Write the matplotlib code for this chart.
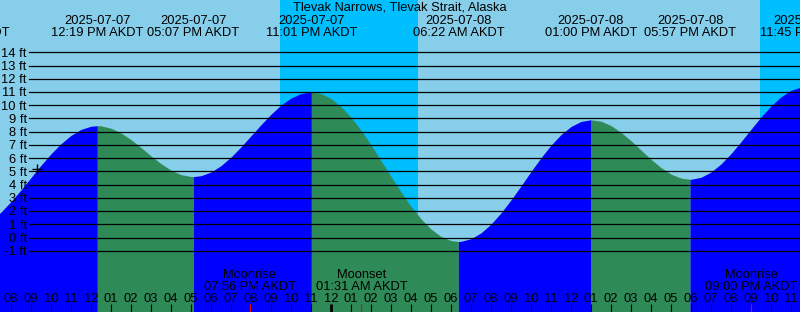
import datetime as dt
import numpy as np
import matplotlib
matplotlib.use('Agg')
import matplotlib.pyplot as plt
from matplotlib.transforms import blended_transform_factory

# station / tide table (AKDT)
station = "Tlevak Narrows, Tlevak Strait, Alaska"
tide_event_times = ["2025-07-07 05:39", "2025-07-07 12:19", "2025-07-07 17:07",
                    "2025-07-07 23:01", "2025-07-08 06:22", "2025-07-08 13:00",
                    "2025-07-08 17:57", "2025-07-08 23:45"]
tide_event_ft = [0.4, 8.45, 4.6, 11.0, -0.3, 8.9, 4.4, 11.4]

# half-hourly heights, 2025-07-07 07:00 .. 2025-07-09 00:00
sample_start = "2025-07-07 07:00"
sample_step_h = 0.5
sample_ft = [1.26, 1.92, 2.72, 3.60, 4.53, 5.46, 6.33, 7.09, 7.72, 8.17, 8.41, 8.44,   # 07:00-12:30
             8.26, 7.90, 7.40, 6.80, 6.17, 5.58, 5.09, 4.75, 4.61, 4.67, 4.95, 5.43,   # 13:00-18:30
             6.08, 6.85, 7.69, 8.53, 9.32, 10.01, 10.54, 10.88, 11.0, 10.88,           # 19:00-23:30
             10.51, 9.90, 9.09, 8.11, 7.00, 5.81, 4.61, 3.44, 2.35, 1.41, 0.64, 0.08,  # 00:00-05:30
             -0.23, -0.29, -0.09, 0.35, 1.01, 1.86, 2.84, 3.90, 4.99, 6.03, 6.98, 7.78, # 06:00-11:30
             8.39, 8.77, 8.9, 8.79, 8.46, 7.95, 7.32, 6.61, 5.91, 5.29, 4.79, 4.49,    # 12:00-17:30
             4.40, 4.55, 4.95, 5.56, 6.34, 7.24, 8.18, 9.11, 9.94, 10.63, 11.12, 11.37, # 18:00-23:30
             11.38]                                                                     # 00:00

# sunset / sunrise
night_start = ["2025-07-07 21:27", "2025-07-08 21:27"]
night_end = ["2025-07-08 04:20", "2025-07-09 04:20"]

# moon
moon_times = ["2025-07-07 19:56", "2025-07-08 01:31", "2025-07-08 21:00"]
moon_kinds = ["Moonrise", "Moonset", "Moonrise"]

now_time = "2025-07-07 09:18"
now_ft = 5.18

ft_levels = list(range(-1, 15))

T0 = dt.datetime(2025, 7, 7)


def hrs(s):
    d = dt.datetime.strptime(s, "%Y-%m-%d %H:%M")
    return (d - T0).total_seconds() / 3600.0


def fmt_time(s):
    d = dt.datetime.strptime(s, "%Y-%m-%d %H:%M")
    return d.strftime("%I:%M %p AKDT")


W, H = 800, 312
x_lo = 7.45
x_hi = x_lo + 40.0
px_per_ft = 13.23
ft_at_top = 237.5 / px_per_ft
ft_at_bot = (237.5 - H) / px_per_ft

DAY = '#87CEEB'
NIGHT = '#00BFFF'
RISE = '#0000FF'
FALL = '#2E8B57'

plt.rcParams['font.family'] = ['Liberation Sans', 'DejaVu Sans']
FS = 9.3

fig = plt.figure(figsize=(W / 100, H / 100), dpi=100)
fig.patch.set_facecolor(DAY)
ax = fig.add_axes([0, 0, 1, 1])
ax.set_facecolor(DAY)
ax.set_xlim(x_lo, x_hi)
ax.set_ylim(ft_at_bot, ft_at_top)
ax.axis('off')
xa = ax.get_xaxis_transform()
ya = blended_transform_factory(ax.transAxes, ax.transData)


def yf(ypx):
    return 1 - ypx / H


# night shading
for a, b in zip(night_start, night_end):
    ax.axvspan(hrs(a), hrs(b), color=NIGHT, lw=0, zorder=0)

# tide curve: samples plus the extrema themselves
t_s = hrs(sample_start) + sample_step_h * np.arange(len(sample_ft))
ev_t = np.array([hrs(s) for s in tide_event_times])
ev_h = np.array(tide_event_ft)
t_all = np.concatenate([t_s, ev_t])
h_all = np.concatenate([np.array(sample_ft), ev_h])
order = np.argsort(t_all, kind='stable')
t_all, h_all = t_all[order], h_all[order]

bounds = [t_all[0]] + list(ev_t) + [t_all[-1]]
for i in range(len(bounds) - 1):
    a, b = bounds[i], bounds[i + 1]
    if b <= a:
        continue
    m = (t_all >= a) & (t_all <= b)
    # segment ending at a high -> rising
    if i < len(ev_t):
        rising = ev_h[i] > (ev_h[i - 1] if i > 0 else ev_h[i + 1])
    else:
        rising = ev_h[-1] < ev_h[-2]
    ax.fill_between(t_all[m], h_all[m], ft_at_bot, color=RISE if rising else FALL,
                    lw=0, antialiased=False, zorder=1)

# level lines
for v in ft_levels:
    ax.axhline(v, xmin=29.3 / W, xmax=1, color='black', lw=0.9, zorder=2)
    ax.text(26.7 / W, v - 4.4 / px_per_ft, f"{v} ft", transform=ya,
            ha='right', va='baseline', fontsize=FS, zorder=3)

ax.plot(hrs(now_time), now_ft, marker='+', ms=6.5, mew=1.0, color='black', zorder=3)

# title and extrema labels
ax.text(0.5, yf(11), station, transform=ax.transAxes, ha='center', va='baseline', fontsize=FS)
for s in tide_event_times:
    x = hrs(s)
    ax.text(x, yf(24), s[:10], transform=xa, ha='center', va='baseline', fontsize=FS)
    ax.text(x, yf(36), fmt_time(s), transform=xa, ha='center', va='baseline', fontsize=FS)

# moon labels
for s, k in zip(moon_times, moon_kinds):
    x = hrs(s)
    ax.text(x, yf(278), k, transform=xa, ha='center', va='baseline', fontsize=FS)
    ax.text(x, yf(290.5), fmt_time(s), transform=xa, ha='center', va='baseline', fontsize=FS)

# hour ticks and labels
moon_h = [hrs(s) for s in moon_times]
for hh in range(int(np.ceil(x_lo)), int(x_hi) + 1):
    lab = f"{(hh % 12) or 12:02d}"
    ax.text(hh, yf(301.7), lab, transform=xa, ha='center', va='baseline', fontsize=FS)
    if any(abs(hh - m) < 1e-6 for m in moon_h):
        continue
    lw = 2.0 if hh % 24 == 0 else 0.8
    ax.plot([hh, hh], [yf(304), 0], transform=xa, color='black', lw=lw,
            solid_capstyle='butt', zorder=3)
for m in moon_h:
    ax.plot([m, m], [yf(304), 0], transform=xa, color='red', lw=0.8,
            solid_capstyle='butt', zorder=3)

fig.savefig('out.png', dpi=100, facecolor=DAY)
